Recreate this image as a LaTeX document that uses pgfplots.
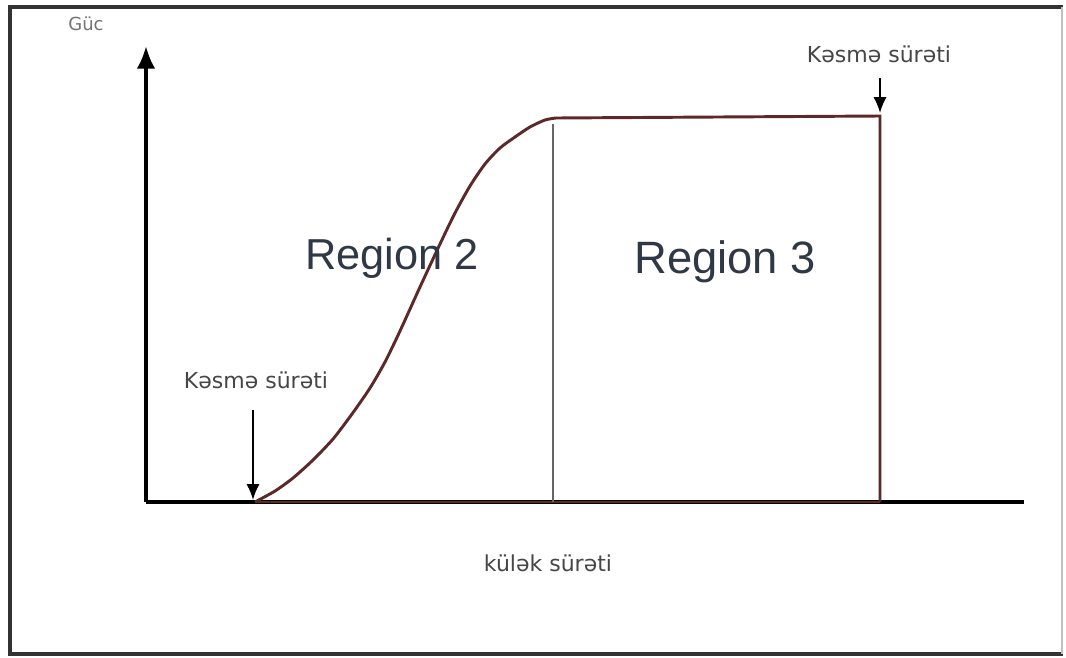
\documentclass[border=0pt]{standalone}
\usepackage{pgfplots}
\pgfplotsset{compat=1.18}
\usetikzlibrary{arrows.meta}
\usepackage{fontspec}
\setmainfont{Liberation Sans}
\newfontfamily\dejavu{DejaVu Sans}
\definecolor{curvecol}{RGB}{92,40,40}
\definecolor{txtgray}{RGB}{70,70,70}
\definecolor{regioncol}{RGB}{48,56,70}
\begin{document}
\begin{tikzpicture}
\begin{axis}[
  width=799.5pt, height=492.75pt, scale only axis,
  xmin=0, xmax=1066, ymin=0, ymax=657, y dir=reverse,
  hide axis, clip=false,
]
% bounding box
\addplot[draw=none] coordinates {(0,0) (1066,657)};
% outer frame
\addplot[draw=black!80, line width=2.4pt] coordinates {(1063,7) (10,7) (10,654) (1063,654)};
\addplot[draw=black!25, line width=1pt] coordinates {(1062,7) (1062,654)};
% x axis
\addplot[draw=black, line width=2.8pt] coordinates {(146,502) (1024,502)};
% y axis with arrow
\addplot[draw=black, line width=2.8pt, -{Latex[length=17pt,width=14pt]}] coordinates {(146,502) (146,46)};
% power curve
\addplot[draw=curvecol, line width=2.2pt, smooth, tension=0.45] coordinates {
(255,502) (275,491) (293,478) (313,460) (333,439) (352,414) (370,388)
(385,362) (400,331) (420,287) (440,244) (455,213) (470,186) (485,164)
(500,148) (515,137) (530,127) (545,120) (556,118)};
\addplot[draw=curvecol, line width=2.2pt] coordinates {(556,118) (880,116) (880,502)};
\addplot[draw=curvecol, line width=1.8pt] coordinates {(255,502) (880,502)};
% region divider
\addplot[draw=black!60, line width=1.8pt] coordinates {(553,124) (553,502)};
% cut-in / cut-out arrows
\addplot[draw=black, line width=1.5pt, -{Latex[length=12pt,width=10pt]}] coordinates {(253,410) (253,500)};
\addplot[draw=black, line width=1.5pt, -{Latex[length=12pt,width=10pt]}] coordinates {(880,78) (880,113)};
% texts
\node[text=black!55, font=\dejavu\fontsize{13.5}{16}\selectfont] at (axis cs:86,24) {Güc};
\node[text=txtgray, font=\dejavu\fontsize{16.5}{19}\selectfont] at (axis cs:879,54) {Kəsmə sürəti};
\node[text=txtgray, font=\dejavu\fontsize{16.5}{19}\selectfont] at (axis cs:256,380) {Kəsmə sürəti};
\node[text=txtgray, font=\dejavu\fontsize{16.5}{19}\selectfont] at (axis cs:548,563) {külək sürəti};
\node[text=regioncol, font=\fontsize{32.5}{38}\selectfont] at (axis cs:392,258) {Region 2};
\node[text=regioncol, font=\fontsize{34}{39}\selectfont] at (axis cs:725,262) {Region 3};
\end{axis}
\end{tikzpicture}
\end{document}
